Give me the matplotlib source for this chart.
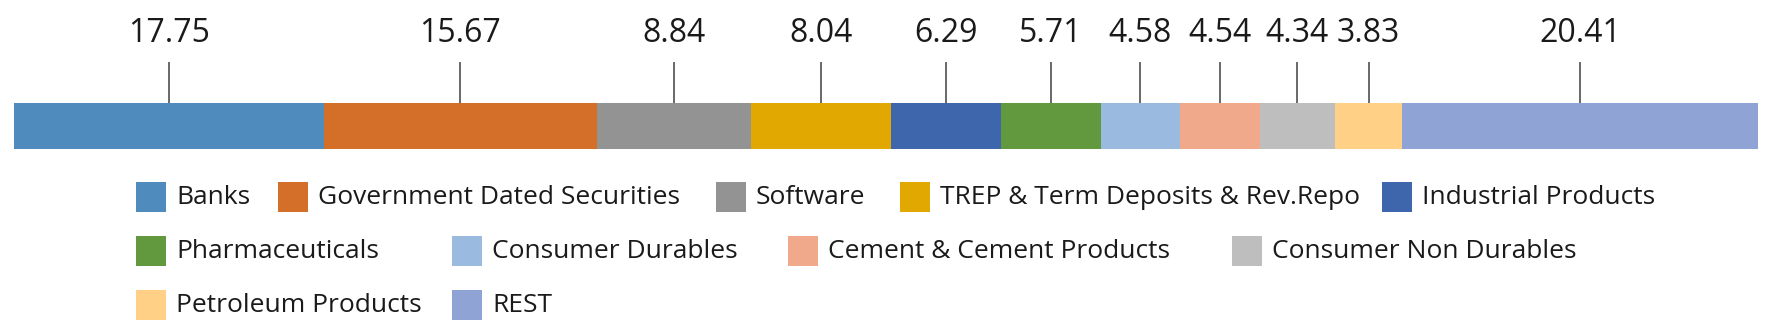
import matplotlib
matplotlib.use('Agg')
import matplotlib.pyplot as plt
from matplotlib.patches import Rectangle
import numpy as np

plt.rcParams['font.family'] = ['Open Sans', 'DejaVu Sans']

# sector allocation (%)
sectors = ['Banks', 'Government Dated Securities', 'Software',
           'TREP & Term Deposits & Rev.Repo', 'Industrial Products',
           'Pharmaceuticals', 'Consumer Durables', 'Cement & Cement Products',
           'Consumer Non Durables', 'Petroleum Products', 'REST']
values = [17.75, 15.67, 8.84, 8.04, 6.29, 5.71, 4.58, 4.54, 4.34, 3.83, 20.41]
colors = ['#4f8bbd', '#d46f2a', '#939393', '#e0a800', '#3d66ad', '#62993e',
          '#9abae0', '#f0a98a', '#bebebe', '#ffd086', '#8fa3d4']

W, H = 1772, 334
fig = plt.figure(figsize=(W / 100, H / 100), dpi=100)

# bar axes: x 14..1758 px, y 103..149 px from top
ax = fig.add_axes([14 / W, 1 - 149 / H, (1758 - 14) / W, 46 / H])
lefts = np.concatenate([[0], np.cumsum(values)[:-1]])
ax.barh(0.5, values, left=lefts, height=1, color=colors, edgecolor='none')
ax.set_xlim(0, sum(values))
ax.set_ylim(0, 1)

centers = lefts + np.array(values) / 2
ax.xaxis.tick_top()
ax.set_xticks(centers)
ax.set_xticklabels(['%.2f' % v for v in values])
ax.tick_params(axis='x', length=29.5, width=1.1, color='#404040',
               pad=9, labelsize=23, labelcolor='#1a1a1a')
ax.set_yticks([])
for s in ax.spines.values():
    s.set_visible(False)

# legend, laid out like the original (square left x in px, row center y in px)
rows = [
    [(0, 136), (1, 278), (2, 716), (3, 900), (4, 1382)],
    [(5, 136), (6, 452), (7, 788), (8, 1232)],
    [(9, 136), (10, 452)],
]
row_y = [197, 251, 305]
sq = 30
for row, yc in zip(rows, row_y):
    for i, xs in row:
        fig.patches.append(Rectangle((xs / W, 1 - (yc + sq / 2) / H), sq / W, sq / H,
                                     transform=fig.transFigure, facecolor=colors[i],
                                     edgecolor='none'))
        fig.text((xs + sq + 10) / W, 1 - (yc + 1) / H, sectors[i], fontsize=19,
                 va='center', ha='left', color='#1a1a1a')

fig.savefig('out.png', dpi=100)
